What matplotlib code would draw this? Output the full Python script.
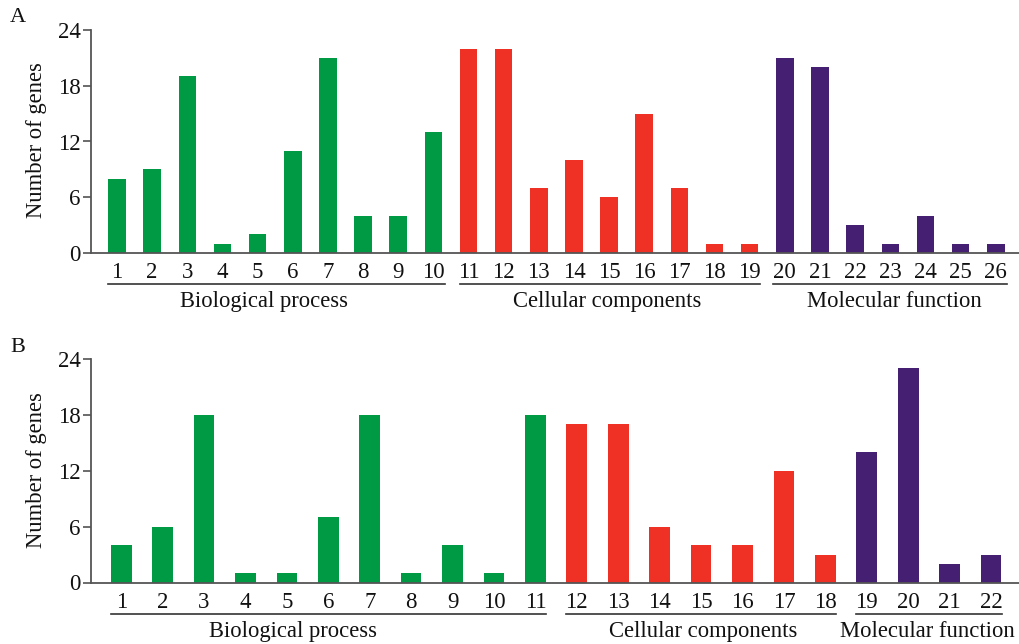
import matplotlib
matplotlib.use("Agg")
import matplotlib.pyplot as plt
import matplotlib.transforms as mtransforms

plt.rcParams['font.family'] = ['Liberation Serif', 'DejaVu Serif']

# ---------------- data ----------------
groups = ["Biological process", "Cellular components", "Molecular function"]
colors = ["#009a44", "#ee3124", "#452072"]

a_bp = [8, 9, 19, 1, 2, 11, 21, 4, 4, 13]
a_cc = [22, 22, 7, 10, 6, 15, 7, 1, 1]
a_mf = [21, 20, 3, 1, 4, 1, 1]

b_bp = [4, 6, 18, 1, 1, 7, 18, 1, 4, 1, 18]
b_cc = [17, 17, 6, 4, 4, 12, 3]
b_mf = [14, 23, 2, 3]

yticks = [0, 6, 12, 18, 24]
ylabel = "Number of genes"

# ---------------- layout (x axis in pixel-like units) ----------------
W, H = 1019, 644
fig = plt.figure(figsize=(W / 100, H / 100), dpi=100)

panels = [
    dict(letter="A", data=[a_bp, a_cc, a_mf], y0=253, y1=30,
         start=117, step=35.15,
         line_pad=[(0.26, 0.33), (0.25, 0.30), (0.34, 0.31)],
         label_x=[263.5, 607, 894], letter_y=18),
    dict(letter="B", data=[b_bp, b_cc, b_mf], y0=582.5, y1=359,
         start=121.2, step=41.42,
         line_pad=[(0.25, 0.25), (0.25, 0.25), (0.25, 0.27)],
         label_x=[293, 703, 927], letter_y=348),
]

x_left = 91
for p in panels:
    bottom = 1 - p["y0"] / H
    height = (p["y0"] - p["y1"]) / H
    ax = fig.add_axes([x_left / W, bottom, 1 - x_left / W, height])
    ax.set_xlim(x_left, W)
    ax.set_ylim(0, 24)
    trans = mtransforms.blended_transform_factory(ax.transData, ax.transAxes)
    axh = p["y0"] - p["y1"]
    step = p["step"]

    tick_pos, tick_lab = [], []
    n = 0
    for gi, vals in enumerate(p["data"]):
        xs = [p["start"] + (n + i) * step for i in range(len(vals))]
        ax.bar(xs, vals, width=0.5 * step, color=colors[gi], edgecolor='none', zorder=2)
        for i, x in enumerate(xs):
            tick_pos.append(x)
            tick_lab.append(str(n + i + 1))
        n += len(vals)
        lp, rp = p["line_pad"][gi]
        x0 = xs[0] - lp * step
        x1 = xs[-1] + rp * step
        ax.plot([x0, x1], [-31.5 / axh, -31.5 / axh], transform=trans,
                color="#333333", lw=1.2, clip_on=False)
        ax.text(p["label_x"][gi], -54.5 / axh, groups[gi], transform=trans,
                ha="center", va="baseline", fontsize=16.3, color="#111111",
                clip_on=False)

    ax.set_xticks(tick_pos)
    ax.set_xticklabels(tick_lab)
    ax.set_yticks(yticks)
    ax.tick_params(axis="x", length=0, pad=6.5, labelsize=16.5, colors="#111111")
    ax.tick_params(axis="y", length=6, width=1.1, pad=1.5, labelsize=16.5,
                   colors="#111111", direction="out")
    ax.tick_params(axis="y", color="#444444")
    for s in ["top", "right"]:
        ax.spines[s].set_visible(False)
    for s in ["left", "bottom"]:
        ax.spines[s].set_color("#555555")
        ax.spines[s].set_linewidth(1.3)

    fig.text(37 / W, 1 - ((p["y0"] + p["y1"]) / 2 - 1) / H, ylabel, rotation=90,
             ha="center", va="center", fontsize=16.3, color="#111111")
    fig.text(18 / W, 1 - p["letter_y"] / H, p["letter"], ha="center", va="center",
             fontsize=16, color="#111111")

fig.savefig("out.png", dpi=100)
